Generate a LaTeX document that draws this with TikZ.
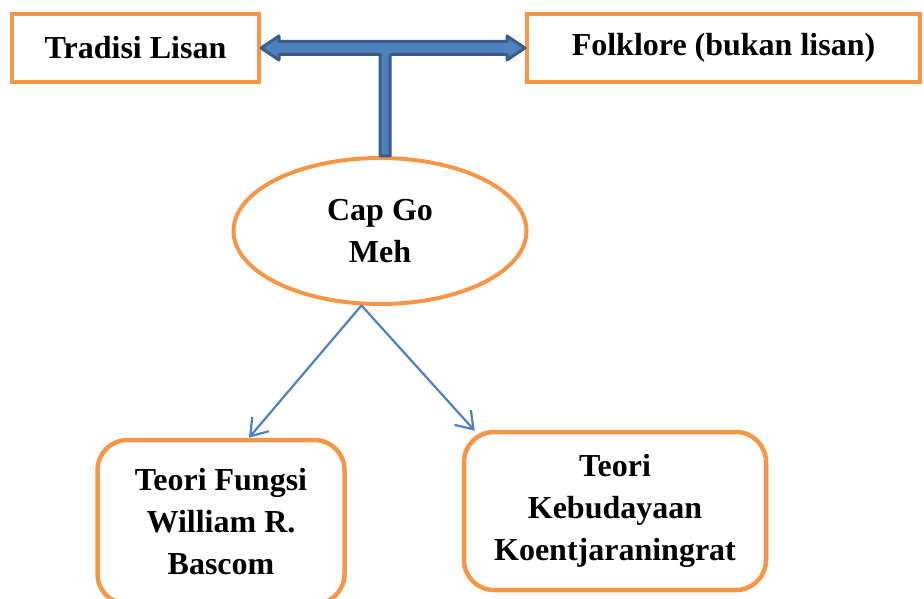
\documentclass[tikz,border=0pt]{standalone}
\usepackage{fontspec}
\setmainfont{Liberation Serif}
\usetikzlibrary{shapes.geometric,arrows.meta}
\definecolor{orng}{HTML}{F79646}
\definecolor{blu}{HTML}{4F81BD}
\definecolor{darkblu}{HTML}{385D8A}
\tikzstyle{txt} = [font=\fontsize{32}{42}\selectfont\bfseries, align=center, inner sep=0pt]
\tikzstyle{topbox} = [txt, rectangle, draw=orng, line width=4pt, minimum height=68pt]
\tikzstyle{roundbox} = [txt, rectangle, rounded corners=30pt, draw=orng, line width=4.5pt]
\tikzstyle{oval} = [txt, ellipse, draw=orng, line width=4pt, minimum width=293pt, minimum height=146pt]
\tikzstyle{bar} = [fill=blu, draw=darkblu, line width=3pt, line join=round]
\tikzstyle{link} = [draw=blu, line width=2.2pt, -{Straight Barb[length=16pt, width=22pt]}]

\begin{document}
\begin{tikzpicture}
	\useasboundingbox (0pt,0pt) rectangle (924pt,598pt);
	\node[topbox, minimum width=247pt] (trad) at (135.5pt,550pt) {Tradisi Lisan};
	\node[topbox, minimum width=393pt] (folk) at (723.5pt,550pt) {Folklore (bukan lisan)};
	\node[oval] (cgm) at (380pt,367pt) {Cap Go\\Meh};
	\node[roundbox, minimum width=247pt, minimum height=164pt] (bascom) at (221pt,76pt)
		{Teori Fungsi\\William R.\\Bascom};
	\node[roundbox, minimum width=302pt, minimum height=158pt] (koen) at (615pt,87pt)
		{Teori\\Kebudayaan\\Koentjaraningrat};
	\draw[bar] (trad.east) -- ++(18pt,12pt) -- ++(0pt,-5.5pt)
		-- ([xshift=-18pt,yshift=6.5pt]folk.west) -- ++(0pt,5.5pt) -- (folk.west)
		-- ++(-18pt,-12pt) -- ++(0pt,5.5pt)
		-| ([xshift=10pt]cgm.north) -- (cgm.north)
		|- ([xshift=18pt,yshift=-6.5pt]trad.east) -- ++(0pt,-5.5pt) -- cycle;
	\draw[link] (cgm.256) -- ([xshift=28pt]bascom.north);
	\draw[link] (cgm.256) -- ([xshift=13pt,yshift=-1pt]koen.north west);
\end{tikzpicture}
\end{document}
